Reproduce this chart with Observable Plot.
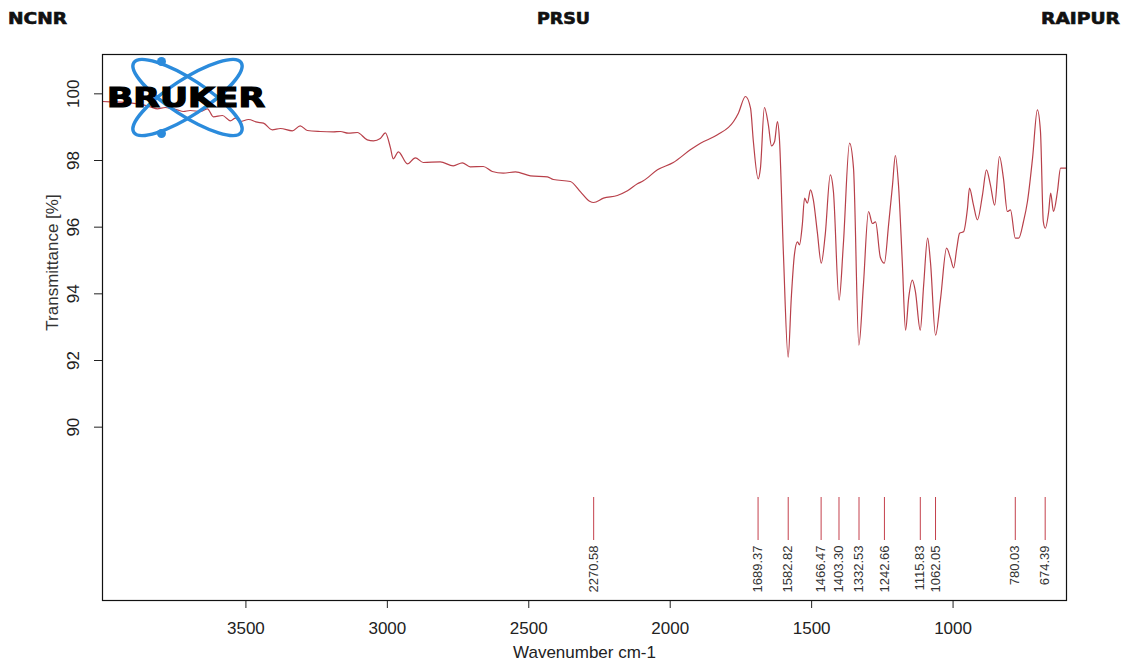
<!DOCTYPE html>
<html>
<head>
<meta charset="utf-8">
<script src="https://cdn.jsdelivr.net/npm/d3@7"></script>
<script src="https://cdn.jsdelivr.net/npm/@observablehq/plot@0.6"></script>
<style>
  html, body { margin: 0; padding: 0; background: #fff; }
  #page { position: relative; width: 1124px; height: 667px; overflow: hidden; }
  #header { display: block; }
  #logo { position: absolute; left: 0; top: 0; pointer-events: none; }
</style>
</head>
<body>
<div id="page">
  <svg id="header" width="1124" height="30">
    <g font-family="DejaVu Sans, Liberation Sans, sans-serif" font-weight="bold" font-size="15" fill="#111" stroke="#111" stroke-width="0.6">
      <text x="8" y="24" textLength="59" lengthAdjust="spacingAndGlyphs">NCNR</text>
      <text x="537" y="24" textLength="53" lengthAdjust="spacingAndGlyphs">PRSU</text>
      <text x="1041" y="24" textLength="79" lengthAdjust="spacingAndGlyphs">RAIPUR</text>
    </g>
  </svg>
  <div id="chart"></div>
  <svg id="logo" width="1124" height="667">
    <g fill="none" stroke="#2b8bdc" stroke-width="3.5">
      <ellipse cx="187.5" cy="97.5" rx="64" ry="18" transform="rotate(33 187.5 97.5)"></ellipse>
      <ellipse cx="187.5" cy="97.5" rx="64" ry="18" transform="rotate(-33 187.5 97.5)"></ellipse>
    </g>
    <circle cx="161.5" cy="61.5" r="4.5" fill="#2b8bdc"></circle>
    <circle cx="161.5" cy="133.5" r="4.5" fill="#2b8bdc"></circle>
    <text x="107" y="107" font-family="DejaVu Sans, Liberation Sans, sans-serif" font-weight="bold" font-size="26" fill="#000" stroke="#000" stroke-width="1.2" textLength="158" lengthAdjust="spacingAndGlyphs">BRUKER</text>
  </svg>
</div>
<script>
// Spectrum (wavenumber in cm-1, transmittance in %)
const wavenumber = [4007,3979,3944,3909,3863,3838,3813,3785,3767,3743,
  3721,3697,3661,3636,3615,3583,3555,3537,3520,3491,
  3460,3438,3407,3378,3336,3308,3283,3237,3191,3166,
  3138,3106,3071,3049,3025,3007,2989,2979,2961,2929,
  2901,2873,2813,2767,2735,2707,2661,2629,2590,2547,
  2494,2434,2413,2353,2317,2285,2271,2236,2187,2151,
  2116,2095,2045,1989,1929,1893,1833,1776,1759,1734,
  1716,1706,1689,1681,1667,1653,1642,1631,1621,1614,
  1600,1583,1572,1561,1550,1543,1533,1525,1515,1504,
  1494,1480,1466,1452,1434,1423,1403,1388,1366,1352,
  1333,1317,1299,1285,1274,1257,1243,1228,1214,1204,
  1193,1179,1168,1157,1144,1133,1116,1104,1090,1080,
  1062,1044,1023,1009,998,987,977,963,949,942,
  928,914,896,882,868,853,836,822,808,797,
  780,768,751,737,719,702,691,681,674,662,
  655,645,631,620,599];
const transmittance = [99.77,99.76,99.75,99.73,99.67,99.61,99.55,99.59,99.57,99.52,
  99.47,99.50,99.47,99.55,99.31,99.35,99.19,99.27,99.17,99.23,
  99.15,99.12,98.92,98.96,98.89,99.04,98.90,98.87,98.86,98.87,
  98.82,98.84,98.62,98.59,98.66,98.83,98.38,98.05,98.26,97.90,
  98.08,97.94,97.96,97.84,97.93,97.81,97.82,97.67,97.62,97.66,
  97.54,97.51,97.43,97.37,97.06,96.78,96.74,96.87,96.95,97.09,
  97.30,97.39,97.72,97.94,98.32,98.52,98.77,99.17,99.42,99.92,
  99.57,98.57,97.45,97.77,99.59,99.07,98.44,98.57,99.17,98.67,
  95.26,92.10,93.87,95.17,95.56,95.47,96.07,96.87,96.72,97.12,
  96.82,95.86,94.92,95.77,97.57,97.07,93.81,95.47,98.52,97.77,
  92.46,94.26,96.47,96.11,96.16,95.09,94.92,96.07,97.27,98.15,
  97.27,94.86,92.91,93.87,94.41,94.06,92.91,94.26,95.67,94.96,
  92.76,93.87,95.37,95.07,94.78,95.36,95.82,95.86,96.57,97.17,
  96.67,96.22,96.97,97.72,97.27,96.66,98.12,97.47,96.47,96.52,
  95.67,95.67,96.17,96.77,98.07,99.52,98.87,96.17,95.97,96.47,
  97.02,96.47,97.07,97.77,97.77];

// Peak picks
const peaks = [2270.58, 1689.37, 1582.82, 1466.47, 1403.30, 1332.53, 1242.66, 1115.83, 1062.05, 780.03, 674.39];
const peakLabels = ["2270.58", "1689.37", "1582.82", "1466.47", "1403.30", "1332.53", "1242.66", "1115.83", "1062.05", "780.03", "674.39"];

// Axis ticks
const xTicks = [3500, 3000, 2500, 2000, 1500, 1000];
const yTicks = [90, 92, 94, 96, 98, 100];
const yTickLabels = ["90", "92", "94", "96", "98", "100"];

const xLabel = "Wavenumber cm-1";
const yLabel = "Transmittance [%]";

const curveColor = "#b8404a";
const peakColor = "#c4404c";

const chart = Plot.plot({
  width: 1124,
  height: 637,
  marginLeft: 102,
  marginRight: 58,
  marginTop: 24,
  marginBottom: 67,
  style: { fontFamily: "Liberation Sans, Arial, sans-serif", fontSize: "17px", color: "#222", background: "#fff" },
  x: { domain: [4007, 599] },
  y: { domain: [84.8, 101.18] },
  marks: [
    Plot.line(wavenumber, { x: wavenumber, y: transmittance, stroke: curveColor, strokeWidth: 1.2, curve: "monotone-x" }),
    Plot.ruleX(peaks, { x: d => d, y1: 86.6, y2: 87.89, stroke: peakColor, strokeWidth: 1 }),
    Plot.text(peaks, { x: d => d, y: 86.45, text: (d, i) => peakLabels[i], rotate: -90, textAnchor: "end", fontSize: 13, fill: "#333" }),
    Plot.axisX({ ticks: xTicks, tickSize: 8, tickPadding: 13, tickFormat: d => String(d), label: null, fontSize: 17, stroke: "#222", fill: "#222" }),
    Plot.axisY({ ticks: yTicks, tickSize: 8, tickFormat: () => "", label: null, stroke: "#222" }),
    Plot.text(yTicks, { y: d => d, text: (d, i) => yTickLabels[i], frameAnchor: "left", textAnchor: "middle", dx: -28.5, rotate: -90, fontSize: 17, fill: "#222" }),
    Plot.text([yLabel], { frameAnchor: "top-left", textAnchor: "middle", dx: -56.5, dy: 208, rotate: -90, text: d => d, fontSize: 17, fill: "#333" }),
    Plot.text([xLabel], { frameAnchor: "bottom", textAnchor: "middle", dy: 57, text: d => d, fontSize: 17, fill: "#222" }),
    Plot.frame({ stroke: "#111", strokeWidth: 1.2 })
  ]
});
document.getElementById("chart").appendChild(chart);
</script>
</body>
</html>
